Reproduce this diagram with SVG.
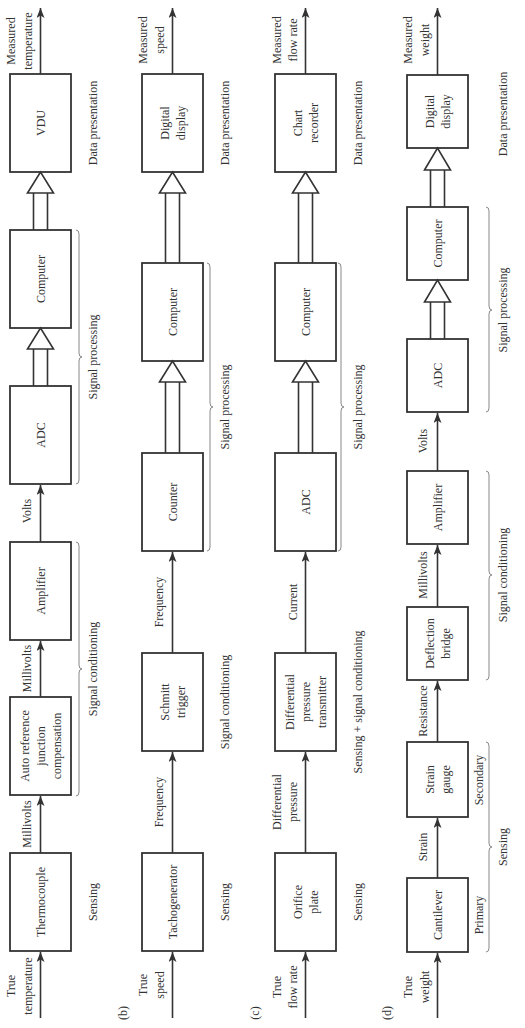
<svg xmlns="http://www.w3.org/2000/svg" width="525" height="1028" viewBox="0 0 525 1028">
<style>
.b{fill:#fff;stroke:#333;stroke-width:1.8}
.t{font-family:"Liberation Serif",serif;font-size:12px;fill:#333;text-anchor:middle}
.ln{stroke:#333;stroke-width:1.6;fill:none}
.br{stroke:#888;stroke-width:1;fill:none}
.h{fill:#fff;stroke:#333;stroke-width:1.6}
</style>
<defs>
<marker id="ar" viewBox="0 0 10 8" refX="10" refY="4" markerWidth="10" markerHeight="8" markerUnits="userSpaceOnUse" orient="auto">
<path d="M0,0 L10,4 L0,8 L2.5,4 Z" fill="#333"/>
</marker>
</defs>
<rect width="525" height="1028" fill="#fff"/>

<!-- Panel (a) -->
<g id="a-thermocouple"><rect class="b" x="10" y="853" width="61" height="98"/><text class="t" transform="translate(44.5,902) rotate(-90)">Thermocouple</text></g>
<g id="a-autoref"><rect class="b" x="10" y="697" width="61" height="98"/><text class="t" transform="translate(28.5,746) rotate(-90)">Auto reference</text><text class="t" transform="translate(44.5,746) rotate(-90)">junction</text><text class="t" transform="translate(60.5,746) rotate(-90)">compensation</text></g>
<g id="a-amplifier"><rect class="b" x="10" y="542" width="61" height="98"/><text class="t" transform="translate(44.5,591) rotate(-90)">Amplifier</text></g>
<g id="a-adc"><rect class="b" x="10" y="386" width="61" height="98"/><text class="t" transform="translate(44.5,435) rotate(-90)">ADC</text></g>
<g id="a-computer"><rect class="b" x="10" y="230" width="61" height="98"/><text class="t" transform="translate(44.5,279) rotate(-90)">Computer</text></g>
<g id="a-vdu"><rect class="b" x="10" y="74" width="61" height="98"/><text class="t" transform="translate(44.5,123) rotate(-90)">VDU</text></g>

<!-- Panel (b) -->
<g id="b-tacho"><rect class="b" x="142" y="853" width="61" height="98"/><text class="t" transform="translate(176.5,902) rotate(-90)">Tachogenerator</text></g>
<g id="b-schmitt"><rect class="b" x="142" y="653" width="61" height="98"/><text class="t" transform="translate(168.5,702) rotate(-90)">Schmitt</text><text class="t" transform="translate(184.5,702) rotate(-90)">trigger</text></g>
<g id="b-counter"><rect class="b" x="142" y="453" width="61" height="98"/><text class="t" transform="translate(176.5,502) rotate(-90)">Counter</text></g>
<g id="b-computer"><rect class="b" x="142" y="263" width="61" height="98"/><text class="t" transform="translate(176.5,312) rotate(-90)">Computer</text></g>
<g id="b-display"><rect class="b" x="142" y="74" width="61" height="98"/><text class="t" transform="translate(168.5,123) rotate(-90)">Digital</text><text class="t" transform="translate(184.5,123) rotate(-90)">display</text></g>

<!-- Panel (c) -->
<g id="c-orifice"><rect class="b" x="275" y="853" width="61" height="98"/><text class="t" transform="translate(301.5,902) rotate(-90)">Orifice</text><text class="t" transform="translate(317.5,902) rotate(-90)">plate</text></g>
<g id="c-dpt"><rect class="b" x="275" y="653" width="61" height="98"/><text class="t" transform="translate(293.5,702) rotate(-90)">Differential</text><text class="t" transform="translate(309.5,702) rotate(-90)">pressure</text><text class="t" transform="translate(325.5,702) rotate(-90)">transmitter</text></g>
<g id="c-adc"><rect class="b" x="275" y="453" width="61" height="98"/><text class="t" transform="translate(309.5,502) rotate(-90)">ADC</text></g>
<g id="c-computer"><rect class="b" x="275" y="263" width="61" height="98"/><text class="t" transform="translate(309.5,312) rotate(-90)">Computer</text></g>
<g id="c-chart"><rect class="b" x="275" y="74" width="61" height="98"/><text class="t" transform="translate(301.5,123) rotate(-90)">Chart</text><text class="t" transform="translate(317.5,123) rotate(-90)">recorder</text></g>

<!-- Panel (d) -->
<g id="d-cantilever"><rect class="b" x="407" y="878" width="61" height="74"/><text class="t" transform="translate(441.5,915) rotate(-90)">Cantilever</text></g>
<g id="d-strain"><rect class="b" x="407" y="742" width="61" height="75"/><text class="t" transform="translate(433.5,779.5) rotate(-90)">Strain</text><text class="t" transform="translate(449.5,779.5) rotate(-90)">gauge</text></g>
<g id="d-bridge"><rect class="b" x="407" y="607" width="61" height="73"/><text class="t" transform="translate(433.5,643.5) rotate(-90)">Deflection</text><text class="t" transform="translate(449.5,643.5) rotate(-90)">bridge</text></g>
<g id="d-amplifier"><rect class="b" x="407" y="471" width="61" height="73"/><text class="t" transform="translate(441.5,507.5) rotate(-90)">Amplifier</text></g>
<g id="d-adc"><rect class="b" x="407" y="339" width="61" height="73"/><text class="t" transform="translate(441.5,375.5) rotate(-90)">ADC</text></g>
<g id="d-computer"><rect class="b" x="407" y="207" width="61" height="73"/><text class="t" transform="translate(441.5,243.5) rotate(-90)">Computer</text></g>
<g id="d-display"><rect class="b" x="407" y="75" width="61" height="73"/><text class="t" transform="translate(433.5,111.5) rotate(-90)">Digital</text><text class="t" transform="translate(449.5,111.5) rotate(-90)">display</text></g>

<g id="connectors">
<!-- (a) -->
<line class="ln" x1="40.5" y1="1018" x2="40.5" y2="952" marker-end="url(#ar)"/>
<line class="ln" x1="40.5" y1="853" x2="40.5" y2="796" marker-end="url(#ar)"/>
<line class="ln" x1="40.5" y1="697" x2="40.5" y2="641" marker-end="url(#ar)"/>
<line class="ln" x1="40.5" y1="542" x2="40.5" y2="485" marker-end="url(#ar)"/>
<line class="ln" x1="33.5" y1="386" x2="33.5" y2="349"/><line class="ln" x1="47.5" y1="386" x2="47.5" y2="349"/>
<polygon class="h" points="27.5,349 40.5,328 53.5,349"/>
<line class="ln" x1="33.5" y1="230" x2="33.5" y2="193"/><line class="ln" x1="47.5" y1="230" x2="47.5" y2="193"/>
<polygon class="h" points="27.5,193 40.5,172 53.5,193"/>
<line class="ln" x1="40.5" y1="74" x2="40.5" y2="8" marker-end="url(#ar)"/>
<!-- (b) -->
<line class="ln" x1="172.5" y1="1018" x2="172.5" y2="952" marker-end="url(#ar)"/>
<line class="ln" x1="172.5" y1="853" x2="172.5" y2="752" marker-end="url(#ar)"/>
<line class="ln" x1="172.5" y1="653" x2="172.5" y2="552" marker-end="url(#ar)"/>
<line class="ln" x1="165.5" y1="453" x2="165.5" y2="382"/><line class="ln" x1="179.5" y1="453" x2="179.5" y2="382"/>
<polygon class="h" points="159.5,382 172.5,361 185.5,382"/>
<line class="ln" x1="165.5" y1="263" x2="165.5" y2="193"/><line class="ln" x1="179.5" y1="263" x2="179.5" y2="193"/>
<polygon class="h" points="159.5,193 172.5,172 185.5,193"/>
<line class="ln" x1="172.5" y1="74" x2="172.5" y2="8" marker-end="url(#ar)"/>
<!-- (c) -->
<line class="ln" x1="305.5" y1="1018" x2="305.5" y2="952" marker-end="url(#ar)"/>
<line class="ln" x1="305.5" y1="853" x2="305.5" y2="752" marker-end="url(#ar)"/>
<line class="ln" x1="305.5" y1="653" x2="305.5" y2="552" marker-end="url(#ar)"/>
<line class="ln" x1="298.5" y1="453" x2="298.5" y2="382"/><line class="ln" x1="312.5" y1="453" x2="312.5" y2="382"/>
<polygon class="h" points="292.5,382 305.5,361 318.5,382"/>
<line class="ln" x1="298.5" y1="263" x2="298.5" y2="193"/><line class="ln" x1="312.5" y1="263" x2="312.5" y2="193"/>
<polygon class="h" points="292.5,193 305.5,172 318.5,193"/>
<line class="ln" x1="305.5" y1="74" x2="305.5" y2="8" marker-end="url(#ar)"/>
<!-- (d) -->
<line class="ln" x1="437.5" y1="1018" x2="437.5" y2="953" marker-end="url(#ar)"/>
<line class="ln" x1="437.5" y1="878" x2="437.5" y2="818" marker-end="url(#ar)"/>
<line class="ln" x1="437.5" y1="742" x2="437.5" y2="681" marker-end="url(#ar)"/>
<line class="ln" x1="437.5" y1="607" x2="437.5" y2="545" marker-end="url(#ar)"/>
<line class="ln" x1="437.5" y1="471" x2="437.5" y2="413" marker-end="url(#ar)"/>
<line class="ln" x1="430.5" y1="339" x2="430.5" y2="302"/><line class="ln" x1="444.5" y1="339" x2="444.5" y2="302"/>
<polygon class="h" points="424.5,302 437.5,280 450.5,302"/>
<line class="ln" x1="430.5" y1="207" x2="430.5" y2="170"/><line class="ln" x1="444.5" y1="207" x2="444.5" y2="170"/>
<polygon class="h" points="424.5,170 437.5,148 450.5,170"/>
<line class="ln" x1="437.5" y1="75" x2="437.5" y2="8" marker-end="url(#ar)"/>
</g>

<g id="braces">
<path class="br" d="M76,542 Q79,542 79,546 L79,665 Q79,669 82,669 Q79,669 79,673 L79,792 Q79,796 76,796"/>
<path class="br" d="M76,230 Q79,230 79,234 L79,353 Q79,357 82,357 Q79,357 79,361 L79,480 Q79,484 76,484"/>
<path class="br" d="M207,263 Q210,263 210,267 L210,403 Q210,407 213,407 Q210,407 210,411 L210,547 Q210,551 207,551"/>
<path class="br" d="M338,263 Q341,263 341,267 L341,403 Q341,407 344,407 Q341,407 341,411 L341,547 Q341,551 338,551"/>
<path class="br" d="M486,742 Q489,742 489,746 L489,843 Q489,847 492,847 Q489,847 489,851 L489,948 Q489,952 486,952"/>
<path class="br" d="M486,471 Q489,471 489,475 L489,571 Q489,575 492,575 Q489,575 489,579 L489,676 Q489,680 486,680"/>
<path class="br" d="M486,207 Q489,207 489,211 L489,306 Q489,310 492,310 Q489,310 489,314 L489,408 Q489,412 486,412"/>
</g>

<g id="labels">
<!-- (a) -->
<text class="t" transform="translate(15,986) rotate(-90)">True</text>
<text class="t" transform="translate(32,986) rotate(-90)">temperature</text>
<text class="t" transform="translate(31,824) rotate(-90)">Millivolts</text>
<text class="t" transform="translate(31,668.5) rotate(-90)">Millivolts</text>
<text class="t" transform="translate(31,511) rotate(-90)">Volts</text>
<text class="t" transform="translate(15,41) rotate(-90)">Measured</text>
<text class="t" transform="translate(32,41) rotate(-90)">temperature</text>
<text class="t" transform="translate(97,902) rotate(-90)">Sensing</text>
<text class="t" transform="translate(97,669) rotate(-90)">Signal conditioning</text>
<text class="t" transform="translate(97,357) rotate(-90)">Signal processing</text>
<text class="t" transform="translate(97,123) rotate(-90)">Data presentation</text>
<text class="t" transform="translate(127,1013) rotate(-90)">(b)</text>
<!-- (b) -->
<text class="t" transform="translate(147,985) rotate(-90)">True</text>
<text class="t" transform="translate(164,985) rotate(-90)">speed</text>
<text class="t" transform="translate(163,802) rotate(-90)">Frequency</text>
<text class="t" transform="translate(163,602) rotate(-90)">Frequency</text>
<text class="t" transform="translate(147,40) rotate(-90)">Measured</text>
<text class="t" transform="translate(164,40) rotate(-90)">speed</text>
<text class="t" transform="translate(229,902) rotate(-90)">Sensing</text>
<text class="t" transform="translate(229,702) rotate(-90)">Signal conditioning</text>
<text class="t" transform="translate(229,407) rotate(-90)">Signal processing</text>
<text class="t" transform="translate(229,123) rotate(-90)">Data presentation</text>
<text class="t" transform="translate(259,1013) rotate(-90)">(c)</text>
<!-- (c) -->
<text class="t" transform="translate(281,987) rotate(-90)">True</text>
<text class="t" transform="translate(297,987) rotate(-90)">flow rate</text>
<text class="t" transform="translate(281,802) rotate(-90)">Differential</text>
<text class="t" transform="translate(297,802) rotate(-90)">pressure</text>
<text class="t" transform="translate(297,602) rotate(-90)">Current</text>
<text class="t" transform="translate(281,40) rotate(-90)">Measured</text>
<text class="t" transform="translate(297,40) rotate(-90)">flow rate</text>
<text class="t" transform="translate(362,902) rotate(-90)">Sensing</text>
<text class="t" transform="translate(362,702) rotate(-90)">Sensing + signal conditioning</text>
<text class="t" transform="translate(362,407) rotate(-90)">Signal processing</text>
<text class="t" transform="translate(362,123) rotate(-90)">Data presentation</text>
<text class="t" transform="translate(391,1013) rotate(-90)">(d)</text>
<!-- (d) -->
<text class="t" transform="translate(412,987) rotate(-90)">True</text>
<text class="t" transform="translate(429,987) rotate(-90)">weight</text>
<text class="t" transform="translate(427,847) rotate(-90)">Strain</text>
<text class="t" transform="translate(427,711) rotate(-90)">Resistance</text>
<text class="t" transform="translate(427,575) rotate(-90)">Millivolts</text>
<text class="t" transform="translate(427,441) rotate(-90)">Volts</text>
<text class="t" transform="translate(412,40) rotate(-90)">Measured</text>
<text class="t" transform="translate(429,40) rotate(-90)">weight</text>
<text class="t" transform="translate(483,915) rotate(-90)">Primary</text>
<text class="t" transform="translate(483,780) rotate(-90)">Secondary</text>
<text class="t" transform="translate(507,847) rotate(-90)">Sensing</text>
<text class="t" transform="translate(507,575) rotate(-90)">Signal conditioning</text>
<text class="t" transform="translate(507,310) rotate(-90)">Signal processing</text>
<text class="t" transform="translate(507,114) rotate(-90)">Data presentation</text>
</g>
</svg>
